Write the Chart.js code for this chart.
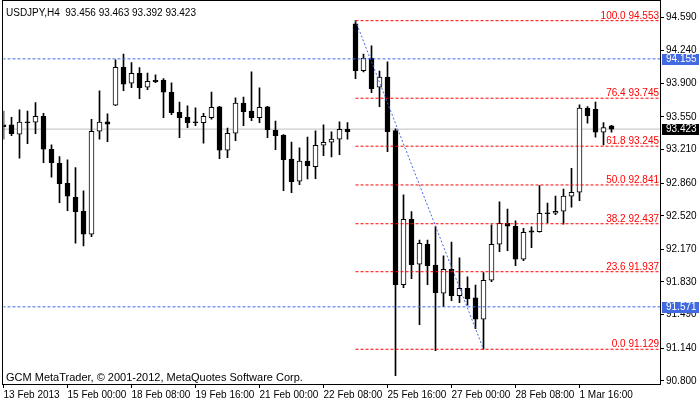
<!DOCTYPE html>
<html><head><meta charset="utf-8">
<script src="https://cdn.jsdelivr.net/npm/chart.js@4.4.1/dist/chart.umd.min.js"></script>
<style>html,body{margin:0;padding:0;background:#fff;}canvas{display:block;}</style>
</head><body>
<canvas id="c" width="700" height="402"></canvas>
<script>
const titleText = 'USDJPY,H4  93.456 93.463 93.392 93.423';
const copyrightText = 'GCM MetaTrader, \u00A9 2001-2012, MetaQuotes Software Corp.';

// H4 candles, index 0 = 13 Feb 2013 16:00
const opens = [93.467,93.467,93.370,93.500,93.495,93.557,93.213,93.067,92.859,92.713,
  92.567,92.328,93.401,93.498,93.672,94.068,93.901,94.005,93.859,93.932,
  93.935,93.807,93.599,93.547,93.500,93.490,93.543,93.654,93.203,93.380,
  93.693,93.612,93.543,93.654,93.414,93.362,93.112,92.880,93.091,93.032,
  93.255,93.286,93.318,93.422,94.519,94.032,94.162,93.859,93.964,93.407,
  91.802,92.484,92.015,92.223,92.005,91.713,91.963,91.688,91.765,91.664,
  91.442,91.848,92.223,92.442,92.411,92.067,92.362,92.355,92.551,92.546,
  92.567,92.724,92.765,93.641,93.630,93.390,93.456];
const highs = [93.612,93.547,93.623,93.612,93.699,93.588,93.258,93.136,93.102,93.022,
  92.779,93.526,93.821,93.581,94.144,94.206,94.116,94.064,94.008,93.988,
  93.949,93.904,93.706,93.665,93.644,93.588,93.810,93.661,93.435,93.748,
  93.758,94.019,93.852,93.660,93.508,93.366,93.289,93.227,93.341,93.404,
  93.467,93.394,93.498,93.490,94.553,94.206,94.290,94.029,94.123,93.425,
  92.737,92.563,92.268,92.268,92.407,92.102,92.247,92.081,91.883,91.799,
  91.928,92.425,92.664,92.591,92.466,92.390,92.404,92.835,92.651,92.724,
  92.797,93.015,93.675,93.657,93.706,93.490,93.463];
const lows = [93.318,93.355,93.120,93.272,93.376,93.074,92.922,92.657,92.574,92.234,
  92.206,92.303,93.318,93.293,93.668,93.824,93.855,93.741,93.834,93.907,
  93.543,93.574,93.334,93.438,93.459,93.276,93.526,93.115,93.126,93.303,
  93.459,93.511,93.490,93.334,93.209,92.782,92.761,92.844,92.904,92.907,
  93.147,93.133,93.157,93.318,93.949,94.019,93.803,93.657,93.188,90.854,
  91.771,91.865,91.386,91.802,91.115,91.573,91.636,91.615,91.588,91.344,
  91.129,91.834,92.146,92.157,92.000,92.053,92.188,92.348,92.449,92.532,
  92.432,92.609,92.678,93.484,93.338,93.258,93.392];
const closes = [93.449,93.376,93.495,93.490,93.557,93.213,93.074,92.855,92.724,92.563,
  92.328,93.401,93.495,93.474,94.068,93.891,94.005,93.855,93.922,93.915,
  93.807,93.595,93.543,93.490,93.490,93.557,93.651,93.203,93.380,93.693,
  93.605,93.543,93.651,93.418,93.355,93.105,92.876,93.091,93.042,93.255,
  93.286,93.318,93.422,93.397,94.032,94.162,93.845,93.964,93.397,91.802,
  92.484,92.011,92.234,92.000,91.719,91.963,91.688,91.765,91.657,91.442,
  91.848,92.223,92.442,92.411,92.067,92.348,92.348,92.546,92.541,92.567,
  92.724,92.765,93.641,93.563,93.390,93.438,93.423];

const xTickIndex = [0,8,16,24,32,40,48,56,64,72];
const xTickLabels = ['13 Feb 2013','15 Feb 00:00','18 Feb 08:00','19 Feb 16:00','21 Feb 00:00',
  '22 Feb 08:00','25 Feb 16:00','27 Feb 00:00','28 Feb 08:00','1 Mar 16:00'];
const yTicks = [94.590,94.240,93.900,93.550,93.210,92.860,92.520,92.170,91.830,91.490,91.140,90.800];

const fibPercents = ['100.0','76.4','61.8','50.0','38.2','23.6','0.0'];
const fibLevels = [94.553,93.745,93.245,92.841,92.437,91.937,91.129];
const fibStartIndex = 44;
const trendX = [44, 60];
const trendY = [94.553, 91.129];
const blueLevels = [94.155, 91.571];
const bidPrice = 93.423;

const X_MIN = 0, X_MAX = 82.0625, Y_MIN = 90.767, Y_MAX = 94.758;
const BLUE = '#4169e1', RED = '#ff0000';
const FONT = 'Liberation Sans';

const idx = opens.map((_, i) => i);
const wickData = idx.map(i => ({x: i, y: [lows[i], highs[i]]}));
const bodyData = idx.map(i => ({x: i, y: [Math.min(opens[i], closes[i]), Math.max(opens[i], closes[i])]}));
const bodyColors = idx.map(i => closes[i] >= opens[i] ? '#ffffff' : '#000000');

function hLine(v, x0, color, dash, order) {
  return {type: 'line', data: [{x: x0, y: v}, {x: X_MAX + 2, y: v}], borderColor: color,
    borderWidth: 1, borderDash: dash, pointRadius: 0, fill: false, clip: 0, order: order};
}
const datasets = [
  {type: 'bar', data: bodyData, backgroundColor: bodyColors, borderColor: '#000', borderWidth: 1,
    borderSkipped: false, barThickness: 5, grouped: false, clip: 0, order: 2},
  {type: 'bar', data: wickData, backgroundColor: '#000', borderWidth: 0,
    barThickness: 1, grouped: false, clip: 0, order: 3},
  hLine(bidPrice, X_MIN - 2, '#c0c0c0', [], 4),
  ...blueLevels.map(v => hLine(v, X_MIN - 2, BLUE, [3, 2], 0)),
  ...fibLevels.map(v => hLine(v, fibStartIndex, RED, [3, 2], 0)),
  {type: 'line', data: trendX.map((x, i) => ({x: x, y: trendY[i]})), borderColor: BLUE, borderWidth: 1,
    borderDash: [2, 2], pointRadius: 0, fill: false, clip: 0, order: 0}
];

const overlay = {
  id: 'overlay',
  afterDraw(chart) {
    const ctx = chart.ctx, y = chart.scales.y;
    ctx.save();
    ctx.strokeStyle = '#000'; ctx.lineWidth = 1;
    ctx.strokeRect(2.5, 0.5, 658, 384);
    ctx.fillStyle = '#000'; ctx.textAlign = 'left'; ctx.textBaseline = 'alphabetic';
    ctx.font = '10px "' + FONT + '"';
    ctx.fillText(titleText, 6, 15.5);
    ctx.font = '11px "' + FONT + '"';
    ctx.fillText(copyrightText, 6, 380.5);
    ctx.font = '10px "' + FONT + '"';
    ctx.fillStyle = RED; ctx.textAlign = 'right';
    fibLevels.forEach((v, i) => {
      ctx.fillText(fibPercents[i] + ' ' + v.toFixed(3), 659, Math.round(y.getPixelForValue(v)) - 2);
    });
    const boxes = [[blueLevels[0], BLUE], [blueLevels[1], BLUE], [bidPrice, '#000']];
    ctx.textAlign = 'left'; ctx.textBaseline = 'middle';
    boxes.forEach(([v, c]) => {
      const py = Math.round(y.getPixelForValue(v));
      ctx.fillStyle = c; ctx.fillRect(662, py - 5, 37, 11);
      ctx.fillStyle = '#fff'; ctx.fillText(v.toFixed(3), 666, py + 0.5);
    });
    ctx.restore();
  }
};

new Chart(document.getElementById('c'), {
  type: 'bar',
  data: {datasets: datasets},
  options: {
    responsive: false, animation: false, devicePixelRatio: 1,
    layout: {padding: {left: 3.5, top: 1, right: 0, bottom: 0}},
    plugins: {legend: {display: false}, tooltip: {enabled: false}},
    scales: {
      x: {
        type: 'linear', min: X_MIN, max: X_MAX, offset: false,
        border: {display: false},
        grid: {display: true, drawOnChartArea: false, drawTicks: true, tickLength: 4, color: '#000', offset: false},
        afterBuildTicks: s => { s.ticks = xTickIndex.map(v => ({value: v})); },
        afterFit: s => { s.height = 18; s.paddingLeft = 0; s.paddingRight = 0; },
        ticks: {autoSkip: false, maxRotation: 0, align: 'start', padding: 1, color: '#000',
          font: {family: FONT, size: 10}, callback: (v, i) => xTickLabels[i]}
      },
      y: {
        type: 'linear', position: 'right', min: Y_MIN, max: Y_MAX,
        border: {display: false},
        grid: {display: true, drawOnChartArea: false, drawTicks: true, tickLength: 4, color: '#000'},
        afterBuildTicks: s => { s.ticks = yTicks.map(v => ({value: v})); },
        afterFit: s => { s.width = 40; s.paddingTop = 0; s.paddingBottom = 0; },
        ticks: {padding: 2, color: '#000', font: {family: FONT, size: 10}, callback: v => v.toFixed(3)}
      }
    }
  },
  plugins: [overlay]
});
</script>
</body></html>
